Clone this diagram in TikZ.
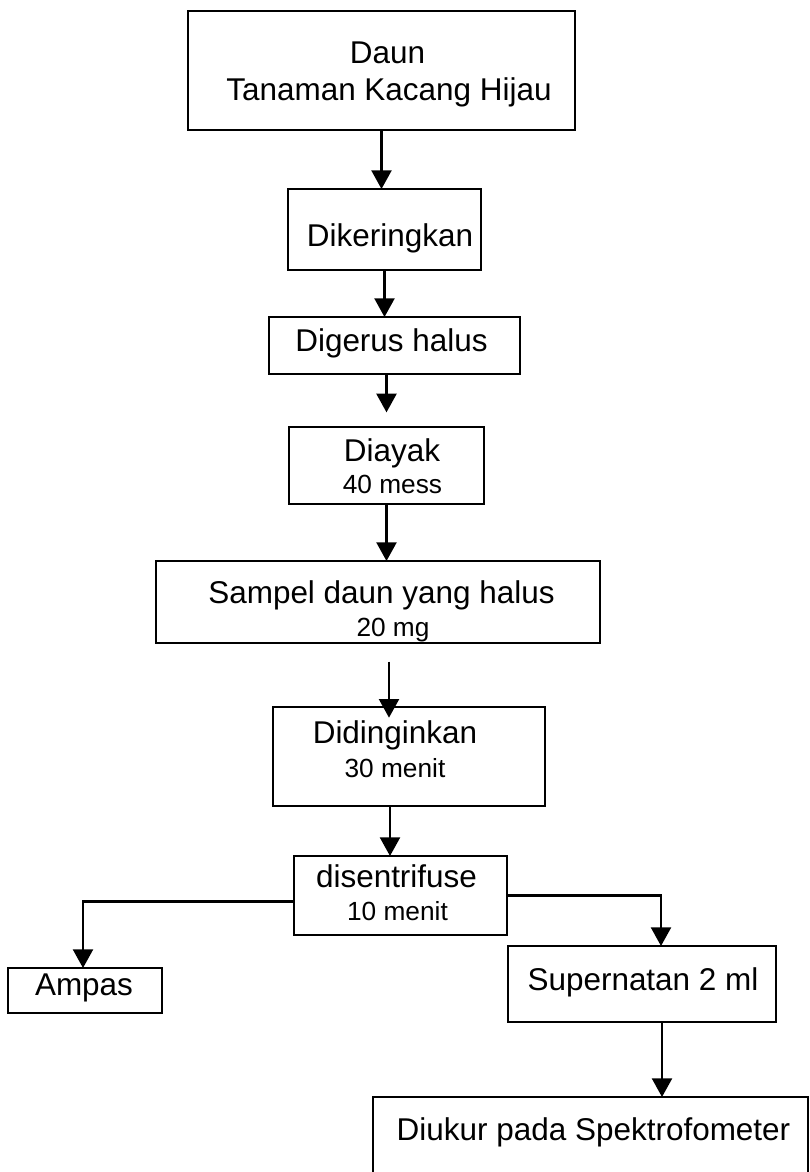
\documentclass[tikz,border=0pt]{standalone}
\usepackage{fontspec}
\setmainfont{Liberation Sans}
\usetikzlibrary{arrows.meta}
\begin{document}
\begin{tikzpicture}[x=0.75pt,y=-0.75pt,
  box/.style={draw, rectangle, line width=1.8pt, inner sep=0pt, outer sep=0pt},
  big/.style={font=\fontsize{23.6pt}{28pt}\selectfont, inner sep=0pt, anchor=base},
  sm/.style={font=\fontsize{19.7pt}{24pt}\selectfont, inner sep=0pt, anchor=base},
  arr/.style={draw, line width=1.7pt, -{Triangle[length=14pt,width=15pt]}}]
\useasboundingbox (0,0) rectangle (810,1172);
\clip (0,0) rectangle (810,1172);
% boxes
\node[box, minimum width=387*0.75pt, minimum height=119*0.75pt] (b1) at (381.5,70.5) {};
\node[box, minimum width=193*0.75pt, minimum height=81*0.75pt] (b2) at (384.5,229.5) {};
\node[box, minimum width=251*0.75pt, minimum height=57*0.75pt] (b3) at (394.5,345.5) {};
\node[box, minimum width=195*0.75pt, minimum height=77*0.75pt] (b4) at (386.5,465.5) {};
\node[box, minimum width=444*0.75pt, minimum height=82*0.75pt] (b5) at (378,602) {};
\node[box, minimum width=272*0.75pt, minimum height=99*0.75pt] (b6) at (409,756.5) {};
\node[box, minimum width=213*0.75pt, minimum height=79*0.75pt] (b7) at (400.5,895.5) {};
\node[box, minimum width=154*0.75pt, minimum height=45*0.75pt] (b8) at (85,990.5) {};
\node[box, minimum width=268*0.75pt, minimum height=76*0.75pt] (b9) at (642,984) {};
\node[box, minimum width=435*0.75pt, minimum height=103*0.75pt] (b10) at (590.5,1148.5) {};
% texts
\node[big] (t1a) at (387.5,63) {Daun};
\node[big] (t1b) at (389,100) {Tanaman Kacang Hijau};
\node[big] (t2) at (390,246) {Dikeringkan};
\node[big] (t3) at (391.5,351) {Digerus halus};
\node[big] (t4a) at (392,461) {Diayak};
\node[sm] (t4b) at (392.5,493) {40 mess};
\node[big] (t5a) at (381.5,603) {Sampel daun yang halus};
\node[sm] (t5b) at (393,636) {20 mg};
\node[big] (t6a) at (395,743) {Didinginkan};
\node[sm] (t6b) at (395,777) {30 menit};
\node[big] (t7a) at (396.5,887) {disentrifuse};
\node[sm] (t7b) at (397.5,920) {10 menit};
\node[big] (t8) at (84,995) {Ampas};
\node[big] (t9) at (643,990) {Supernatan 2 ml};
\node[big] (t10) at (593.5,1140) {Diukur pada Spektrofometer};
% connectors
\draw[arr] (b1.south) -- (b1.south |- b2.north);
\draw[arr] (b2.south) -- (b2.south |- b3.north);
\draw[arr, shorten >=11pt] (b4.north |- b3.south) -- (b4.north);
\draw[arr] (b4.south) -- (b4.south |- b5.north);
\draw[arr, shorten <=14pt, shorten >=-8pt] ([xshift=8.25pt]b5.south) -- ([xshift=8.25pt]b5.south |- b6.north);
\draw[arr] ([xshift=-14.25pt]b6.south) -- ([xshift=-14.25pt]b6.south |- b7.north);
\draw[arr] ([yshift=-4.5pt]b7.west) -| ([xshift=-1.5pt]b8.north);
\draw[arr] (b7.east) -| ([xshift=14.25pt]b9.north);
\draw[arr] ([xshift=15pt]b9.south) -- ([xshift=15pt]b9.south |- b10.north);
\end{tikzpicture}
\end{document}
